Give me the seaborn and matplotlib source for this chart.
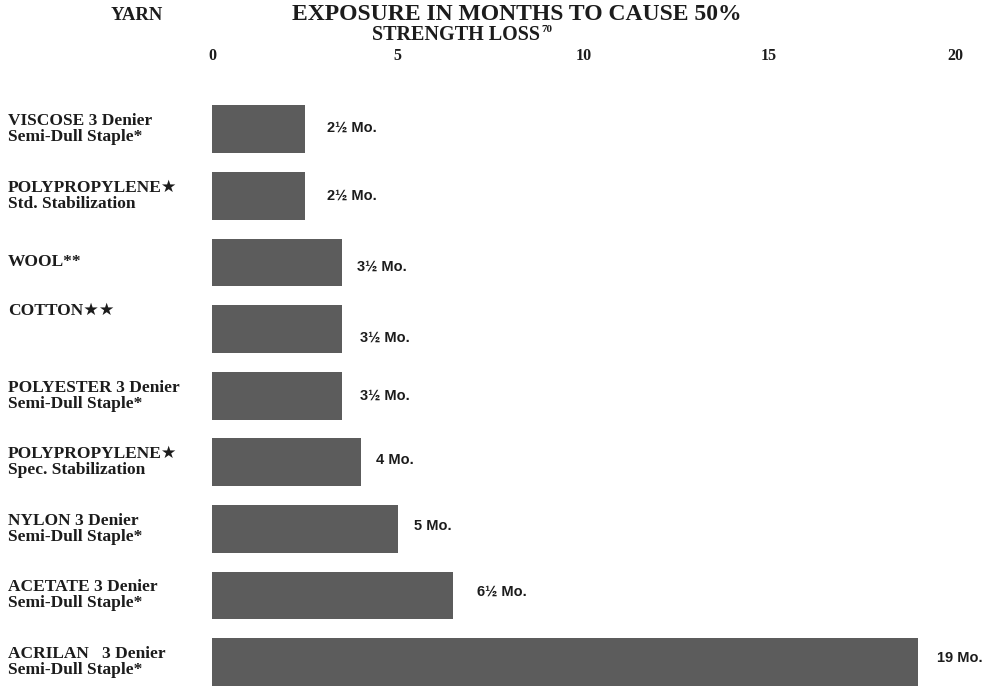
import matplotlib
matplotlib.use("Agg")
import matplotlib.pyplot as plt
import matplotlib.transforms as mtransforms
import seaborn as sns
import pandas as pd

# Yarn types, top to bottom
yarn_names = [
    "VISCOSE 3 Denier\nSemi-Dull Staple*",
    "POLYPROPYLENE\u2605\nStd. Stabilization",
    "WOOL**",
    "COTTON\u2605\u2605",
    "POLYESTER 3 Denier\nSemi-Dull Staple*",
    "POLYPROPYLENE\u2605\nSpec. Stabilization",
    "NYLON 3 Denier\nSemi-Dull Staple*",
    "ACETATE 3 Denier\nSemi-Dull Staple*",
    "ACRILAN   3 Denier\nSemi-Dull Staple*",
]
# Months of exposure to cause 50% strength loss
months = [2.5, 2.5, 3.5, 3.5, 3.5, 4, 5, 6.5, 19]
value_labels = ["2\u00bd Mo.", "2\u00bd Mo.", "3\u00bd Mo.", "3\u00bd Mo.", "3\u00bd Mo.",
                "4 Mo.", "5 Mo.", "6\u00bd Mo.", "19 Mo."]
tick_values = [0, 5, 10, 15, 20]
tick_labels = ["0", "5", "10", "15", "20"]

df = pd.DataFrame({"yarn": yarn_names, "months": months})

sns.set_theme(style="white")
serif = ["Liberation Serif", "DejaVu Sans"]
sans = ["Liberation Sans", "DejaVu Sans"]
ink = "#1c1c1c"
bar_color = "#5c5c5c"

fig = plt.figure(figsize=(9.87, 6.88), dpi=100)
W, H = 987, 688
ax = fig.add_axes([212 / W, 0, 743 / W, 1 - 96 / H])

sns.barplot(data=df, x="months", y="yarn", orient="h", color=bar_color,
            width=0.72, saturation=1, ax=ax, edgecolor="none")

ax.set_xlim(0, 20)
ax.set_ylim(8.389, -0.5)
for s in ax.spines.values():
    s.set_visible(False)
ax.set_xlabel("")
ax.set_ylabel("")
ax.xaxis.tick_top()
ax.set_xticks(tick_values)
ax.set_xticklabels(tick_labels, family=serif, fontweight="bold", fontsize=11.5, color=ink)
ax.tick_params(axis="x", length=0, pad=23)
ax.set_yticks([])

# Yarn names in the left margin
name_dy = [0, 0, 0, 13, 0, 0, 0, 0, 0]
trans = mtransforms.blended_transform_factory(fig.transFigure, ax.transData)
for i, name in enumerate(yarn_names):
    off = mtransforms.offset_copy(trans, fig=fig, x=0, y=name_dy[i], units="points")
    ax.text(8 / W, i, name, transform=off, ha="left", va="center",
            family=serif, fontweight="bold", fontsize=12.5, color=ink,
            linespacing=1.0)

# Value labels beside each bar
label_dx = [16, 16, 11, 13, 13, 11, 12, 17, 14]
label_dy = [1, 0, -3, -6, 0, 2, 2, 3, 3]
for i, (v, lab) in enumerate(zip(months, value_labels)):
    ax.annotate(lab, xy=(v, i), xytext=(label_dx[i], label_dy[i]),
                textcoords="offset points", ha="left", va="center",
                family=sans, fontweight="bold", fontsize=10.5, color=ink)

# Header
fig.text(137 / W, 1 - 15 / H, "YARN", ha="center", va="center",
         family=serif, fontweight="bold", fontsize=13.5, color=ink)
fig.text(517 / W, 1 - 15 / H, "EXPOSURE IN MONTHS TO CAUSE 50%", ha="center",
         va="center", family=serif, fontweight="bold", fontsize=17, color=ink)
fig.text(540 / W, 1 - 35 / H, "STRENGTH LOSS", ha="right", va="center",
         family=serif, fontweight="bold", fontsize=14.5, color=ink)
fig.text(541 / W, 1 - 30 / H, "70", ha="left", va="center",
         family=serif, fontweight="bold", fontsize=8, color=ink)

fig.savefig("out.png", dpi=100, facecolor="white")
